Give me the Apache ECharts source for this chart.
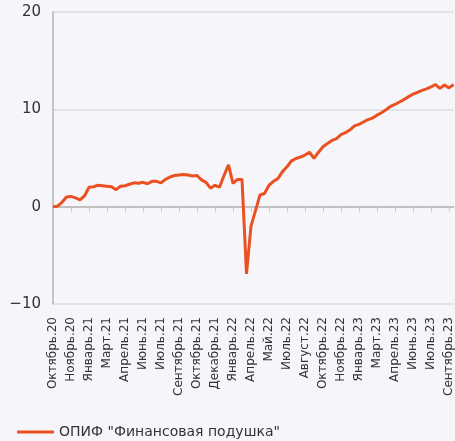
<!DOCTYPE html>
<html lang="ru">
<head>
    <meta charset="UTF-8">
    <script type="text/javascript" src="https://cdn.jsdelivr.net/npm/echarts@6/dist/echarts.min.js"></script>
    <title>ОПИФ "Финансовая подушка"</title>
    <style>
        html, body { margin: 0; padding: 0; background: #f6f6fa; }
        #main { width: 455px; height: 441px; }
    </style>
</head>
<body>
<div id="main"></div>
<script type="text/javascript">

    // подписи по оси X (каждая 4-я точка)
    var monthLabels = ['Октябрь.20', 'Ноябрь.20', 'Январь.21', 'Март.21', 'Апрель.21', 'Июнь.21',
        'Июль.21', 'Сентябрь.21', 'Октябрь.21', 'Декабрь.21', 'Январь.22', 'Апрель.22', 'Май.22',
        'Июль.22', 'Август.22', 'Октябрь.22', 'Ноябрь.22', 'Январь.23', 'Март.23', 'Апрель.23',
        'Июнь.23', 'Июль.23', 'Сентябрь.23'];

    // доходность, %
    var fundValues = [
        0.0, 0.05, 0.45, 1.0, 1.05, 0.9, 0.7, 1.1,
        2.0, 2.05, 2.2, 2.15, 2.1, 2.05, 1.75, 2.1,
        2.15, 2.3, 2.45, 2.4, 2.5, 2.35, 2.6, 2.6,
        2.45, 2.8, 3.05, 3.2, 3.25, 3.3, 3.25, 3.15,
        3.2, 2.75, 2.5, 1.9, 2.2, 2.0, 3.2, 4.3,
        2.4, 2.8, 2.8, -6.9, -2.0, -0.4, 1.2, 1.35,
        2.2, 2.6, 2.9, 3.6, 4.1, 4.7, 4.95, 5.1,
        5.3, 5.6, 4.95, 5.6, 6.15, 6.5, 6.8, 7.0,
        7.4, 7.6, 7.9, 8.3, 8.45, 8.7, 8.95, 9.1,
        9.4, 9.65, 9.95, 10.3, 10.5, 10.75, 11.0, 11.3,
        11.55, 11.75, 11.95, 12.1, 12.3, 12.55, 12.15, 12.5,
        12.2, 12.55
    ];

    var seriesName = 'ОПИФ "Финансовая подушка"';

    // категории: подпись месяца + промежуточные точки
    var categories = [];
    for (var i = 0; i < monthLabels.length; i++) {
        categories.push(monthLabels[i]);
        if (i < monthLabels.length - 1) {
            categories.push('', '', '');
        }
    }
    while (categories.length < fundValues.length) {
        categories.push('');
    }

    var myChart = echarts.init(document.getElementById('main'));

    var option = {
        backgroundColor: '#f6f6fa',
        animation: false,
        textStyle: { fontFamily: 'DejaVu Sans' },
        grid: {
            left: 53,
            right: 0,
            top: 12,
            bottom: 137
        },
        legend: {
            left: 12,
            bottom: -3,
            icon: 'rect',
            itemWidth: 37,
            itemHeight: 3,
            textStyle: { fontSize: 14, color: '#333' },
            data: [seriesName]
        },
        xAxis: {
            type: 'category',
            boundaryGap: false,
            data: categories,
            axisLine: { lineStyle: { color: '#b5b5b5', width: 1.5 } },
            axisTick: { interval: 3, lineStyle: { color: '#c8c8c8' } },
            axisLabel: {
                interval: 3,
                rotate: 90,
                margin: 13,
                fontSize: 12,
                color: '#333'
            }
        },
        yAxis: {
            type: 'value',
            min: -10,
            max: 20,
            interval: 10,
            axisLine: { show: true, lineStyle: { color: '#b5b5b5', width: 1.5 } },
            axisTick: { show: false },
            splitLine: { lineStyle: { color: '#dcdcdc', width: 1.5 } },
            axisLabel: {
                fontSize: 15,
                color: '#333',
                margin: 12,
                formatter: function (v) { return String(v).replace('-', '\u2212'); }
            }
        },
        series: [{
            name: seriesName,
            type: 'line',
            symbol: 'none',
            data: fundValues,
            itemStyle: { color: '#ea5022' },
            lineStyle: { color: '#ea5022', width: 3 }
        }]
    };
    myChart.setOption(option);
</script>
</body>
</html>
